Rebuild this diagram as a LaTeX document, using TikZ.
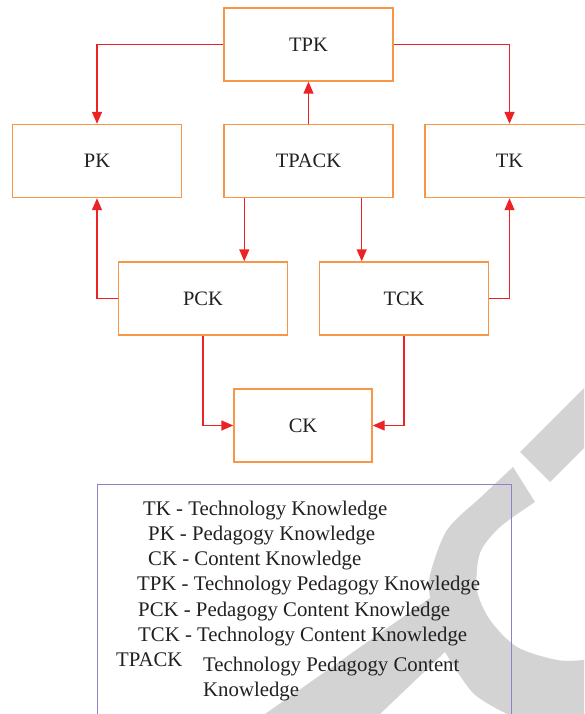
\documentclass[tikz,border=0pt]{standalone}
\usepackage{fontspec}
\setmainfont{Liberation Serif}
\usepackage{xcolor}
\usetikzlibrary{arrows.meta, positioning}
\definecolor{boxorange}{RGB}{247,150,70}
\definecolor{arrowred}{RGB}{237,34,36}
\definecolor{keypurple}{RGB}{150,125,200}
\definecolor{markgray}{RGB}{211,211,211}
\definecolor{textdark}{RGB}{35,31,32}

\begin{document}
\begin{tikzpicture}[x=1pt, y=-1pt,
                        font=\fontsize{20.5}{24}\selectfont, text=textdark,
                        box/.style={draw=boxorange, line width=1.4pt, minimum width=169pt, minimum height=73pt, inner sep=0pt},
                        arr/.style={draw=arrowred, line width=1.4pt, -{Triangle[length=12pt,width=10pt]}},
                        keybox/.style={draw=keypurple, line width=0.9pt, minimum width=414pt, minimum height=236pt, inner sep=0pt},
                        keyline/.style={anchor=base west, inner sep=0pt, font=\fontsize{20.8}{24}\selectfont}]
                        \useasboundingbox (0,0) rectangle (584,714);

                        % watermark behind everything
                        \fill[markgray] plot[smooth] coordinates {(513,467) (481,497) (447,530) (430,575) (430,598)}
                        -- (265,714) -- (380,714) -- (445,652)
                        -- plot[smooth] coordinates {(445,652) (473,693) (507,714)}
                        -- (584,714) -- (584,660)
                        -- plot[smooth] coordinates {(584,660) (557,660) (517,647) (490,620) (477,590) (480,553) (500,527) (535,502)}
                        -- cycle;
                        \fill[markgray] (520,452) -- (550,482) -- (584,448) -- (584,388) -- cycle;

                        \node[box] (tpk) at (308.5, 44.5) {TPK};
                        \node[box] (pk) at (97, 161) {PK};
                        \node[box] (tpack) at (308.5, 161) {TPACK};
                        \node[box] (tk) at (509.5, 161) {TK};
                        \node[box] (pck) at (203, 298.5) {PCK};
                        \node[box] (tck) at (404, 298.5) {TCK};
                        \node[box, minimum width=138pt] (ck) at (303, 425.5) {CK};

                        \draw[arr] (tpk.west) -| (pk.north);
                        \draw[arr] (tpk.east) -| (tk.north);
                        \draw[arr] (tpack.north) -- (tpk.south);
                        \draw[arr] ([xshift=21pt]tpack.south west) -- ([xshift=21pt]tpack.south west |- pck.north);
                        \draw[arr] ([xshift=-32pt]tpack.south east) -- ([xshift=-32pt]tpack.south east |- tck.north);
                        \draw[arr] (pck.west) -| (pk.south);
                        \draw[arr] (tck.east) -| (tk.south);
                        \draw[arr] (pck.south) |- (ck.west);
                        \draw[arr] (tck.south) |- (ck.east);

                        % key
                        \node[keybox] (key) at (304, 602) {};
                        \node[keyline] (ktk) at (143, 515) {TK - Technology Knowledge};
                        \node[keyline] (kpk) at (148, 540) {PK - Pedagogy Knowledge};
                        \node[keyline] (kck) at (148, 565) {CK - Content Knowledge};
                        \node[keyline] (ktpk) at (137, 590) {TPK - Technology Pedagogy Knowledge};
                        \node[keyline] (kpck) at (138, 616) {PCK - Pedagogy Content Knowledge};
                        \node[keyline] (ktck) at (138, 641) {TCK - Technology Content Knowledge};
                        \node[keyline] (ktpack) at (116, 666) {TPACK};
                        \node[keyline] (kdesc) at (203, 671) {Technology Pedagogy Content};
                        \node[keyline] (kdesc2) at (203, 696) {Knowledge};
                    \end{tikzpicture}
\end{document}
